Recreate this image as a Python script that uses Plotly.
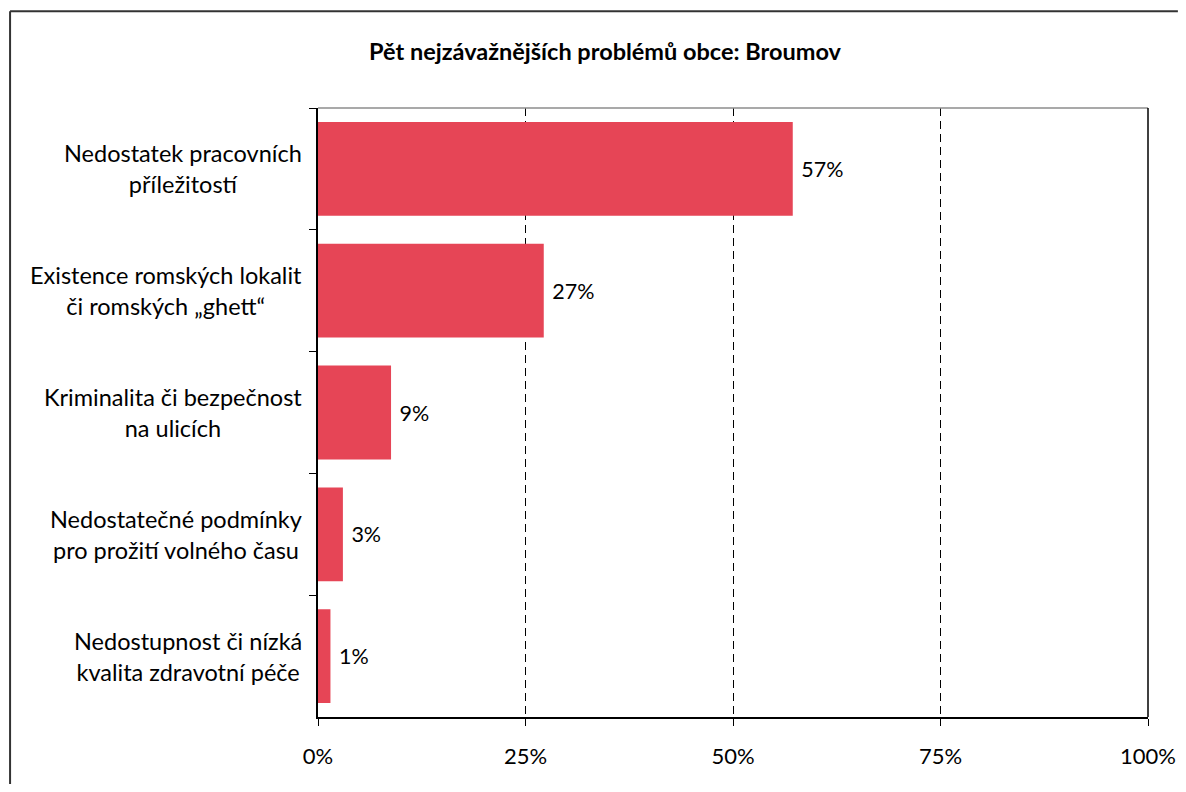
import plotly.graph_objects as go

categories = [
    "Nedostatek pracovních<br>příležitostí",
    "Existence romských lokalit<br>či romských „ghett“",
    "Kriminalita či bezpečnost<br>na ulicích",
    "Nedostatečné podmínky<br>pro prožití volného času",
    "Nedostupnost či nízká<br>kvalita zdravotní péče",
]
values = [57.2, 27.2, 8.8, 3.0, 1.5]
labels = ["57%", "27%", "9%", "3%", "1%"]
x_ticks = [0, 25, 50, 75, 100]
x_tick_text = [f"{v}%" for v in x_ticks]

FONT = "Lato, 'Open Sans', sans-serif"
BAR_COLOR = "#E64556"

fig = go.Figure()
fig.add_trace(go.Bar(
    x=values,
    y=categories,
    orientation="h",
    marker=dict(color=BAR_COLOR, line=dict(width=0)),
    text=labels,
    texttemplate=" %{text}",
    textposition="outside",
    textfont=dict(family=FONT, size=21.5, color="#000000"),
    cliponaxis=False,
    hoverinfo="skip",
))

# category labels, centred text block right-aligned against the axis
for cat in categories:
    fig.add_annotation(
        text=cat,
        x=0, y=cat,
        xref="paper", yref="y",
        xanchor="right", yanchor="middle",
        xshift=-14,
        align="center",
        showarrow=False,
        font=dict(family=FONT, size=23.5, color="#000000"),
    )

# outer chart frame (only left and top edges fall inside the picture)
fig.add_shape(type="line", xref="paper", yref="paper",
              x0=-0.371, x1=-0.371, y0=-0.3, y1=1.159,
              line=dict(color="#333333", width=2), layer="below")
fig.add_shape(type="line", xref="paper", yref="paper",
              x0=-0.371, x1=1.036, y0=1.159, y1=1.159,
              line=dict(color="#333333", width=2), layer="below")
# plot area top (grey) and right (black) borders
fig.add_shape(type="line", xref="paper", yref="paper",
              x0=0, x1=1, y0=1, y1=1,
              line=dict(color="#8c8c8c", width=1.5))
fig.add_shape(type="line", xref="paper", yref="paper",
              x0=1, x1=1, y0=0, y1=1,
              line=dict(color="#000000", width=1.5))

fig.update_layout(
    width=1170,
    height=776,
    paper_bgcolor="white",
    plot_bgcolor="white",
    showlegend=False,
    bargap=0.23,
    title=dict(
        text="<b>Pět nejzávažnějších problémů obce: Broumov</b>",
        x=597 / 1170, xanchor="center",
        y=1 - 44 / 776, yanchor="middle",
        font=dict(family=FONT, size=23.5, color="#000000"),
    ),
    margin=dict(l=310, r=30, t=100, b=67),
    xaxis=dict(
        range=[0, 100],
        tickmode="array",
        tickvals=x_ticks,
        ticktext=x_tick_text,
        ticks="outside",
        ticklen=7,
        tickcolor="#000000",
        ticklabelstandoff=12,
        automargin=False,
        showline=True,
        linecolor="#000000",
        linewidth=1.5,
        showgrid=True,
        gridcolor="#000000",
        gridwidth=1,
        griddash="8px,5px",
        zeroline=False,
        tickfont=dict(family=FONT, size=22, color="#000000"),
    ),
    yaxis=dict(
        categoryorder="array",
        categoryarray=categories,
        autorange="reversed",
        showticklabels=False,
        automargin=False,
        ticks="outside",
        tickson="boundaries",
        ticklen=7,
        tickcolor="#000000",
        showline=True,
        linecolor="#000000",
        linewidth=1.5,
        showgrid=False,
        zeroline=False,
    ),
    dragmode=False,
)

fig.write_html("out.html", config=dict(displayModeBar=False))
